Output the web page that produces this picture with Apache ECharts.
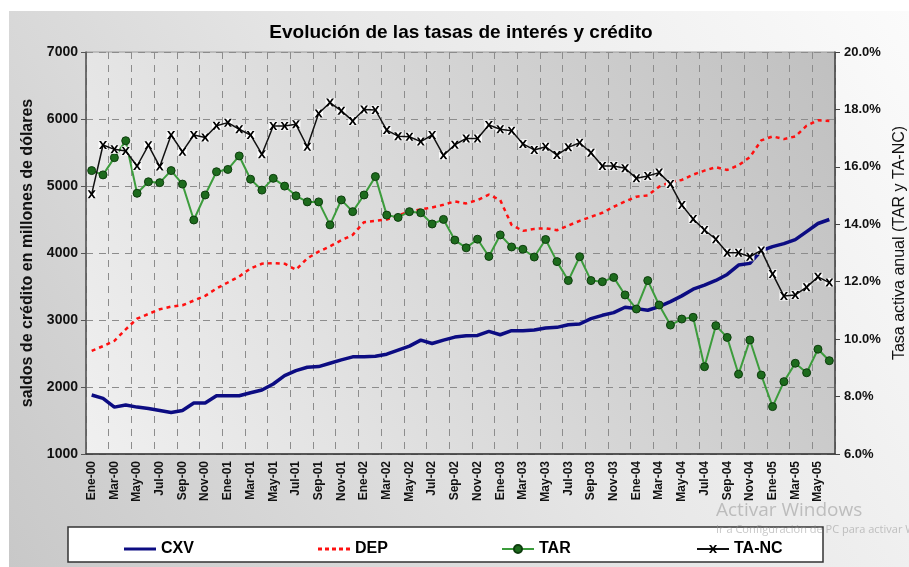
<!DOCTYPE html>
<html>
<head>
<meta charset="utf-8" />
<title>Evolución de las tasas de interés y crédito</title>
<script src="https://cdn.jsdelivr.net/npm/echarts@6/dist/echarts.min.js"></script>
<style>
  html, body { margin: 0; padding: 0; background: #fff; }
  #chart { width: 909px; height: 567px; }
</style>
</head>
<body>
<div id="chart"></div>
<script>
// meses (etiquetas del eje)
var meses = ['Ene', 'Feb', 'Mar', 'Abr', 'May', 'Jun', 'Jul', 'Ago', 'Sep', 'Oct', 'Nov', 'Dic'];
var anios = ['00', '01', '02', '03', '04', '05'];
var categorias = [];
for (var a = 0; a < anios.length; a++) {
    for (var m = 0; m < meses.length; m++) {
        categorias.push(meses[m] + '-' + anios[a]);
    }
}
categorias = categorias.slice(0, 66); // Ene-00 .. Jun-05

// saldos (millones de dolares)
var cxv = [1880, 1830, 1700, 1730, 1700, 1680, 1650, 1620, 1650, 1760,
           1760, 1870, 1870, 1870, 1915, 1955, 2045, 2170, 2245, 2295,
           2305, 2355, 2405, 2450, 2450, 2460, 2490, 2550, 2610, 2700,
           2650, 2700, 2745, 2765, 2770, 2830, 2780, 2840, 2840, 2850,
           2880, 2890, 2930, 2940, 3020, 3070, 3110, 3190, 3170, 3145,
           3200, 3275, 3360, 3460, 3520, 3590, 3680, 3820, 3845, 4035,
           4095, 4140, 4200, 4320, 4440, 4500];
var dep = [2540, 2610, 2690, 2860, 3020, 3090, 3160, 3200, 3220, 3290,
           3360, 3470, 3560, 3650, 3770, 3840, 3850, 3840, 3750, 3920,
           4020, 4100, 4190, 4270, 4460, 4480, 4500, 4560, 4620, 4650,
           4680, 4720, 4770, 4740, 4790, 4870, 4790, 4420, 4330, 4360,
           4370, 4340, 4410, 4480, 4540, 4600, 4690, 4770, 4840, 4860,
           4990, 5060, 5090, 5170, 5230, 5280, 5240, 5310, 5430, 5680,
           5740, 5700, 5740, 5900, 5980, 5970];

// tasas (%)
var tar = [15.87, 15.72, 16.32, 16.91, 15.08, 15.48, 15.45, 15.87, 15.40, 14.15,
           15.02, 15.83, 15.91, 16.38, 15.57, 15.19, 15.60, 15.33, 14.99, 14.78,
           14.78, 13.98, 14.85, 14.44, 15.02, 15.66, 14.32, 14.24, 14.44, 14.40,
           14.01, 14.17, 13.45, 13.18, 13.48, 12.88, 13.63, 13.21, 13.13, 12.86,
           13.47, 12.70, 12.04, 12.87, 12.04, 12.00, 12.15, 11.54, 11.05, 12.04,
           11.19, 10.49, 10.70, 10.76, 9.04, 10.47, 10.06, 8.78, 9.97, 8.75,
           7.65, 8.52, 9.16, 8.83, 9.65, 9.25];
var tanc = [15.05, 16.76, 16.61, 16.55, 16.03, 16.75, 16.01, 17.11, 16.53, 17.11,
            17.02, 17.43, 17.54, 17.31, 17.11, 16.44, 17.42, 17.42, 17.48, 16.70,
            17.86, 18.24, 17.95, 17.60, 18.00, 17.98, 17.28, 17.07, 17.05, 16.88,
            17.11, 16.40, 16.77, 16.99, 16.99, 17.46, 17.31, 17.26, 16.80, 16.59,
            16.70, 16.41, 16.68, 16.84, 16.49, 16.03, 16.03, 15.95, 15.60, 15.68,
            15.80, 15.40, 14.67, 14.18, 13.80, 13.48, 13.01, 13.01, 12.87, 13.09,
            12.27, 11.50, 11.54, 11.81, 12.17, 11.97];

var fuente = '"Liberation Sans", Arial, sans-serif';
var simboloX = 'path://M0,0L2.6,0L5,3.4L7.4,0L10,0L6.4,5L10,10L7.4,10L5,6.6L2.6,10L0,10L3.6,5Z';
// iconos de la leyenda para las series sin marcador
var iconoLinea = 'path://M0,0L32,0L32,3L0,3Z';
var iconoPuntos = 'path://M0,0h4v3h-4zM7,0h4v3h-4zM14,0h4v3h-4zM21,0h4v3h-4zM28,0h4v3h-4z';

var myChart = echarts.init(document.getElementById('chart'));

function leyenda(item, x, alto) {
    return {
        data: [item],
        left: x,
        top: 535,
        itemWidth: 32,
        itemHeight: alto || 14,
        itemGap: 4,
        selectedMode: false,
        textStyle: { fontFamily: fuente, fontSize: 16, fontWeight: 'bold', color: '#000', lineHeight: 18 }
    };
}

var option = {
    animation: false,
    graphic: [
        {
            type: 'rect', z: -10, silent: true,
            shape: { x: 9, y: 11, width: 900, height: 556 },
            style: {
                fill: new echarts.graphic.LinearGradient(0, 1, 1, 0, [
                    { offset: 0, color: '#c8c8c8' },
                    { offset: 0.55, color: '#e8e8e8' },
                    { offset: 1, color: '#fbfbfb' }
                ])
            }
        },
        {
            type: 'rect', z: 1, silent: true,
            shape: { x: 68, y: 527, width: 755, height: 35 },
            style: { fill: '#fff', stroke: '#333', lineWidth: 1.5 }
        },
        {
            type: 'text', z: 50, silent: true, left: 716, top: 501,
            style: { text: 'Activar Windows', fill: 'rgba(150,150,150,0.55)', font: '19px "Open Sans", sans-serif' }
        },
        {
            type: 'text', z: 50, silent: true, left: 716, top: 524,
            style: { text: 'Ir a Configuración de PC para activar Windows.', fill: 'rgba(150,150,150,0.55)', font: '11px "Open Sans", sans-serif' }
        }
    ],
    title: {
        text: 'Evolución de las tasas de interés y crédito',
        left: 456,
        top: 18,
        textAlign: 'center',
        textStyle: { fontFamily: fuente, fontSize: 19, fontWeight: 'bold', color: '#000' }
    },
    legend: [
        leyenda({ name: 'CXV', icon: iconoLinea }, 119, 4),
        leyenda({ name: 'DEP', icon: iconoPuntos }, 313, 3),
        leyenda('TAR', 496, 10),
        leyenda('TA-NC', 691, 10)
    ],
    grid: {
        left: 86, right: 74, top: 52, bottom: 113,
        outerBoundsMode: 'none',
        containLabel: false,
        show: true,
        borderWidth: 1,
        borderColor: '#9a9a9a',
        backgroundColor: new echarts.graphic.LinearGradient(0, 1, 1, 0, [
            { offset: 0, color: '#f0f0f0' },
            { offset: 0.5, color: '#d8d8d8' },
            { offset: 1, color: '#c0c0c0' }
        ])
    },
    xAxis: {
        type: 'category',
        data: categorias,
        boundaryGap: true,
        axisLine: { lineStyle: { color: '#333', width: 1.5 } },
        axisTick: { interval: 1, length: 4, lineStyle: { color: '#333' } },
        axisLabel: {
            interval: 1, rotate: 90, margin: 7,
            fontFamily: fuente, fontSize: 12, fontWeight: 'bold', color: '#111'
        },
        splitLine: { show: true, interval: 1, lineStyle: { color: '#8c8c8c', type: [7, 6], width: 1 } }
    },
    yAxis: [
        {
            type: 'value',
            min: 1000, max: 7000, interval: 1000,
            name: 'saldos de crédito en millones de dólares',
            nameLocation: 'middle',
            nameGap: 38,
            nameTextStyle: { fontFamily: fuente, fontSize: 16, fontWeight: 'bold', color: '#111' },
            axisLine: { show: true, lineStyle: { color: '#555', width: 1.5 } },
            axisTick: { show: true, length: 5, lineStyle: { color: '#555' } },
            axisLabel: {
                margin: 8, fontFamily: fuente, fontSize: 14, fontWeight: 'bold', color: '#111',
                formatter: function (v) { return String(v); }
            },
            splitLine: { show: true, lineStyle: { color: '#8c8c8c', type: [7, 6], width: 1 } }
        },
        {
            type: 'value',
            min: 6, max: 20, interval: 2,
            position: 'right',
            name: 'Tasa activa anual (TAR y TA-NC)',
            nameLocation: 'middle',
            nameGap: 55,
            nameTextStyle: { fontFamily: fuente, fontSize: 16, color: '#111', padding: [0, 0, 0, 20] },
            axisLine: { show: true, lineStyle: { color: '#444', width: 1.5 } },
            axisTick: { show: true, length: 5, lineStyle: { color: '#444' } },
            axisLabel: {
                margin: 9, fontFamily: fuente, fontSize: 13, fontWeight: 'bold', color: '#111',
                formatter: function (v) { return v.toFixed(1) + '%'; }
            },
            splitLine: { show: false }
        }
    ],
    series: [
        {
            name: 'CXV', type: 'line', yAxisIndex: 0, data: cxv,
            showSymbol: false, symbol: 'none',
            lineStyle: { color: '#0c0c82', width: 3.5 },
            itemStyle: { color: '#0c0c82' },
            z: 3
        },
        {
            name: 'DEP', type: 'line', yAxisIndex: 0, data: dep,
            showSymbol: false, symbol: 'none',
            lineStyle: { color: '#ff1010', width: 2.5, type: [4, 4] },
            itemStyle: { color: '#ff1010' },
            z: 3
        },
        {
            name: 'TAR', type: 'line', yAxisIndex: 1, data: tar,
            symbol: 'circle', symbolSize: 8, showAllSymbol: true,
            lineStyle: { color: '#3c9c3c', width: 2 },
            itemStyle: { color: '#1d6b1d', borderColor: '#0d3d0d', borderWidth: 1 },
            z: 4
        },
        {
            name: 'tanc-fondo', type: 'line', yAxisIndex: 1, data: tanc,
            symbol: 'rect', symbolSize: 9, showAllSymbol: true,
            lineStyle: { width: 0, opacity: 0 },
            itemStyle: { color: '#ffffff', opacity: 0.9 },
            silent: true,
            z: 4
        },
        {
            name: 'TA-NC', type: 'line', yAxisIndex: 1, data: tanc,
            symbol: simboloX, symbolSize: 8, showAllSymbol: true,
            lineStyle: { color: '#111', width: 1.5 },
            itemStyle: { color: '#000' },
            z: 5
        }
    ]
};

myChart.setOption(option);
</script>
</body>
</html>
